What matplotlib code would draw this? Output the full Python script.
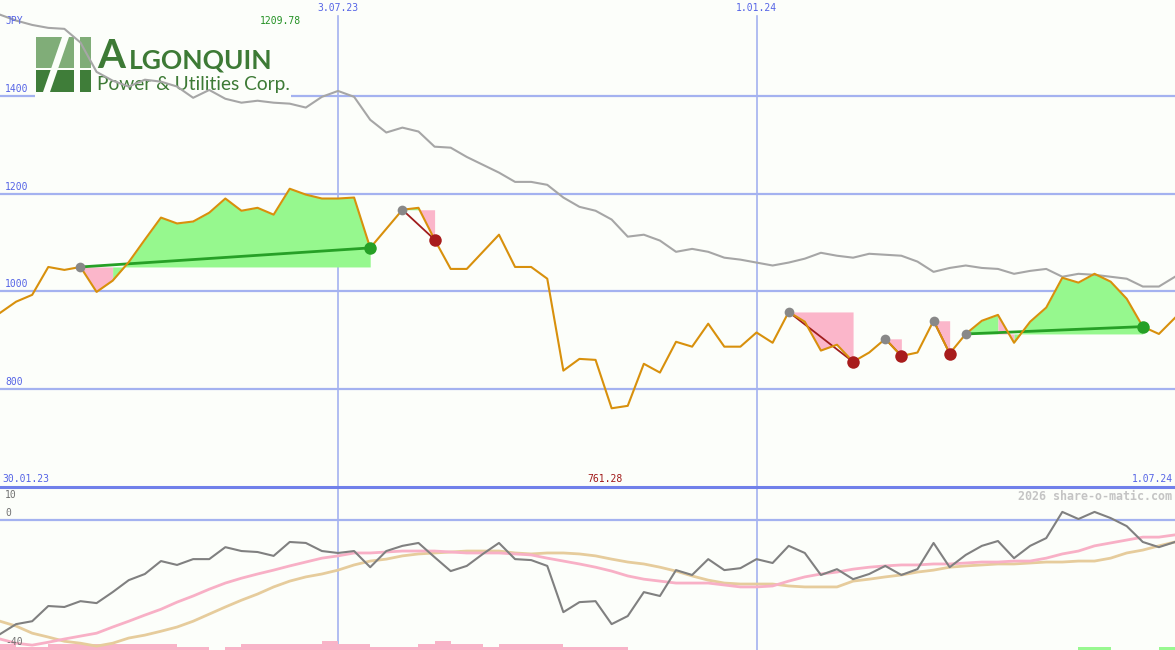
import matplotlib
matplotlib.use('Agg')
import matplotlib.pyplot as plt
import matplotlib.dates as mdates
from matplotlib.patches import Rectangle, Polygon
import numpy as np
import pandas as pd

# weekly closes, JPY
dates = pd.date_range('2023-02-06', periods=74, freq='7D')
price = [956, 979, 993, 1050, 1044, 1050, 999, 1022, 1060, 1106,
         1151, 1139, 1143, 1161, 1190, 1165, 1171, 1157, 1210, 1198,
         1190, 1190, 1192, 1089, 1128, 1167, 1171, 1106, 1046, 1046,
         1081, 1116, 1050, 1050, 1026, 838, 862, 860, 761, 766,
         852, 834, 897, 887, 934, 887, 887, 916, 895, 958,
         938, 879, 891, 856, 875, 903, 868, 875, 940, 873,
         913, 940, 952, 895, 938, 967, 1028, 1018, 1036, 1020,
         985, 928, 913, 946]
avg_long = [1566, 1554, 1545, 1539, 1537, 1509, 1449, 1431, 1419, 1433,
            1429, 1419, 1396, 1412, 1394, 1386, 1390, 1386, 1384, 1376,
            1398, 1410, 1398, 1351, 1325, 1335, 1327, 1296, 1294, 1275,
            1259, 1243, 1224, 1224, 1218, 1192, 1173, 1165, 1147, 1112,
            1116, 1104, 1081, 1087, 1081, 1069, 1065, 1059, 1053, 1059,
            1067, 1079, 1073, 1069, 1077, 1075, 1073, 1061, 1040, 1048,
            1053, 1048, 1046, 1036, 1042, 1046, 1030, 1036, 1034, 1030,
            1026, 1010, 1010, 1030]

# lower panel
osc = [-35.3, -32.2, -31.3, -26.6, -26.9, -25.1, -25.7, -22.3, -18.6, -16.7,
       -12.7, -13.9, -12.1, -12.1, -8.4, -9.6, -9.9, -11.1, -6.8, -7.1,
       -9.6, -10.2, -9.6, -14.6, -9.6, -8.0, -7.1, -11.5, -15.8, -14.2,
       -10.5, -7.1, -12.1, -12.4, -14.2, -28.5, -25.4, -25.1, -32.2, -29.7,
       -22.3, -23.5, -15.5, -17.0, -12.1, -15.5, -14.9, -12.1, -13.3, -8.0,
       -10.2, -17.0, -15.2, -18.3, -16.7, -14.2, -17.0, -15.2, -7.1, -14.6,
       -10.8, -8.0, -6.5, -11.8, -8.0, -5.6, 2.5, 0.3, 2.5, 0.6,
       -1.9, -6.8, -8.4, -6.8]
osc_fast = [-36.8, -38.1, -38.7, -37.8, -36.8, -35.9, -35.0, -33.1, -31.3, -29.4,
            -27.6, -25.4, -23.5, -21.4, -19.5, -18.0, -16.7, -15.5, -14.2, -13.0,
            -11.8, -11.1, -10.2, -10.2, -9.9, -9.6, -9.6, -9.6, -9.9, -10.2,
            -10.2, -10.2, -10.5, -10.8, -11.8, -12.7, -13.6, -14.6, -15.8, -17.3,
            -18.3, -18.9, -19.5, -19.5, -19.5, -20.1, -20.7, -20.7, -20.4, -18.9,
            -17.6, -16.7, -16.1, -15.2, -14.6, -14.2, -13.9, -13.9, -13.6, -13.6,
            -13.3, -13.0, -13.0, -12.7, -12.7, -11.8, -10.5, -9.6, -8.0, -7.1,
            -6.2, -5.3, -5.3, -4.6]
osc_slow = [-31.3, -32.8, -35.0, -36.2, -37.5, -38.1, -39.0, -38.1, -36.5, -35.6,
            -34.4, -33.1, -31.3, -29.1, -26.9, -24.8, -22.9, -20.7, -18.9, -17.6,
            -16.7, -15.5, -13.9, -12.7, -12.1, -11.1, -10.5, -10.2, -9.9, -9.6,
            -9.6, -9.6, -10.2, -10.5, -10.2, -10.2, -10.5, -11.1, -12.1, -13.0,
            -13.6, -14.6, -15.8, -17.3, -18.6, -19.5, -19.8, -19.8, -19.8, -20.4,
            -20.7, -20.7, -20.7, -18.9, -18.3, -17.6, -17.0, -16.1, -15.5, -14.6,
            -14.2, -13.9, -13.6, -13.6, -13.3, -13.0, -13.0, -12.7, -12.7, -11.8,
            -10.2, -9.3, -8.0, -6.8]
bar_red = [2, 1, 1, 2, 2, 2, 2, 2, 2, 2, 2, 1, 1, 0, 1, 2, 2, 2, 2, 2,
           3, 2, 2, 1, 1, 1, 2, 3, 2, 2, 1, 2, 2, 2, 2, 1, 1, 1, 1] + [0] * 35
bar_green = [0] * 67 + [1, 1, 0, 0, 0, 1, 0]

# signals: entry week, exit week, won?
sig_start = [5, 25, 49, 55, 58, 60]
sig_end = [23, 27, 53, 56, 59, 71]
sig_win = [True, False, False, False, False, True]
# shaded stretches between price and entry level: (signal, from, to, gain?)
sig_fills = [(0, 5, 7, False), (0, 7, 23, True), (1, 25, 26, True), (1, 26, 27, False),
             (2, 49, 53, False), (3, 55, 56, False), (4, 58, 59, False),
             (5, 60, 62, True), (5, 62, 63, False), (5, 63, 71, True)]

grid_main = [800, 1000, 1200, 1400]
date_marks = ['2023-07-03', '2024-01-01']
date_labels = ['3.07.23', '1.01.24']
hi_label, lo_label = '1209.78', '761.28'
range_labels = ['30.01.23', '1.07.24']

BG = '#fcfefa'
GRID = '#a4b2f0'
SEP = '#7080ea'
BLUE = '#5564e6'
FS = 7

plt.rcParams['font.family'] = ['DejaVu Sans Mono']

W, H = 1175, 650
fig = plt.figure(figsize=(W / 100, H / 100), dpi=100, facecolor=BG)
ax = fig.add_axes([0, 163 / H, 1, 487 / H])
ax2 = fig.add_axes([0, 0, 1, 163 / H])

def fp(px, py):
    return px / W, 1 - py / H

x = mdates.date2num(dates)
for a in (ax, ax2):
    a.set_facecolor(BG)
    a.set_xlim(x[0], x[-1])
    a.set_xticks([])
    a.set_yticks([])
    for s in a.spines.values():
        s.set_visible(False)
ax.set_ylim(600, 1596)
ax2.set_ylim(-40.2, 10.2)
ax2.spines['top'].set_visible(True)
ax2.spines['top'].set_color(SEP)
ax2.spines['top'].set_linewidth(2.2)

# grid
for v in grid_main:
    ax.axhline(v, color=GRID, lw=1.6, zorder=1)
    ax.annotate(str(v), xy=(0, v), xycoords=('axes fraction', 'data'), xytext=(5, 2),
                textcoords='offset pixels', va='bottom', ha='left', color=BLUE, fontsize=FS, zorder=7)
ax2.axhline(0, color=GRID, lw=1.6, zorder=1)
for d, lab in zip(date_marks, date_labels):
    xv = mdates.date2num(pd.Timestamp(d))
    ax.axvline(xv, ymax=1 - 16 / 487, color=GRID, lw=1.2, zorder=1)
    ax2.axvline(xv, color=GRID, lw=1.2, zorder=1)
    ax.annotate(lab, xy=(xv, 1), xycoords=('data', 'axes fraction'), xytext=(0, -8),
                textcoords='offset pixels', ha='center', va='center', color=BLUE, fontsize=FS)

# logo
ax.add_patch(Rectangle(fp(35, 98), 256 / W, 63 / H, transform=fig.transFigure, color=BG, lw=0, zorder=2))
ax.add_patch(Rectangle(fp(36, 68), 55 / W, 31 / H, transform=fig.transFigure, color='#80ad78', lw=0, zorder=2.1))
ax.add_patch(Rectangle(fp(36, 92), 55 / W, 22 / H, transform=fig.transFigure, color='#3f7d39', lw=0, zorder=2.1))
ax.add_patch(Polygon([fp(43, 92), fp(50, 92), fp(69, 37), fp(62, 37)], closed=True,
                     transform=fig.transFigure, color=BG, lw=0, zorder=2.2))
ax.add_patch(Rectangle(fp(74, 92), 6 / W, 55 / H, transform=fig.transFigure, color=BG, lw=0, zorder=2.2))
LOGO = '#3d7a35'
ax.text(*fp(97, 68), 'A', transform=fig.transFigure, family='Lato', weight='bold', fontsize=29,
        color=LOGO, va='baseline', zorder=2.3)
ax.text(*fp(129, 68), 'LGONQUIN', transform=fig.transFigure, family='Lato', weight='bold', fontsize=19,
        color=LOGO, va='baseline', zorder=2.3)
ax.text(*fp(97, 90), 'Power & Utilities Corp.', transform=fig.transFigure, family='Lato', fontsize=13.8,
        color=LOGO, va='baseline', zorder=2.3)

# main panel
ax.plot(x, avg_long, color='#a6a6a6', lw=1.5, zorder=4)
for k, a0, a1, gain in sig_fills:
    level = price[sig_start[k]]
    ax.fill_between(x[a0:a1 + 1], price[a0:a1 + 1], level, color='#96f88e' if gain else '#fbb6ca',
                    lw=0, zorder=3)
for s, e, win in zip(sig_start, sig_end, sig_win):
    ax.plot([x[s], x[e]], [price[s], price[e]], color='#26a026' if win else '#a01c1c',
            lw=2.0 if win else 1.3, zorder=5)
ax.plot(x, price, color='#d8900c', lw=1.5, zorder=5.5)
for s, e, win in zip(sig_start, sig_end, sig_win):
    ax.plot(x[s], price[s], 'o', ms=7, color='#888888', mec='none', zorder=6)
    ax.plot(x[e], price[e], 'o', ms=9, color='#26a026' if win else '#a81c1c', mec='none', zorder=6)

# labels
fig.text(*fp(5, 21), 'JPY', color=BLUE, fontsize=FS, va='center')
fig.text(*fp(260, 21), hi_label, color='#229022', fontsize=FS, va='center')
fig.text(*fp(2, 479), range_labels[0], color=BLUE, fontsize=FS, va='center')
fig.text(*fp(587, 479), lo_label, color='#a01818', fontsize=FS, va='center')
fig.text(*fp(1173, 479), range_labels[1], color=BLUE, fontsize=FS, va='center', ha='right')
fig.text(*fp(1172, 496), '2026 share-o-matic.com', color='#c4c4c4', fontsize=8.4, va='center', ha='right',
         weight='bold')

# lower panel
bot = ax2.get_ylim()[0]
unit = 0.95
ax2.bar(x, np.array(bar_red) * unit, bottom=bot, width=7, align='edge', color='#f8b4c8', lw=0, zorder=2)
ax2.bar(x, np.array(bar_green) * unit, bottom=bot, width=7, align='edge', color='#98f890', lw=0, zorder=2)
ax2.plot(x, osc_slow, color='#e6cc9c', lw=2.0, zorder=3)
ax2.plot(x, osc_fast, color='#f8b0c6', lw=2.0, zorder=3.1)
ax2.plot(x, osc, color='#808080', lw=1.5, zorder=4)
fig.text(*fp(5, 495), '10', color='#707070', fontsize=FS, va='center')
fig.text(*fp(5, 513), '0', color='#707070', fontsize=FS, va='center')
fig.text(*fp(5, 642), '-40', color='#707070', fontsize=FS, va='center')

fig.savefig('out.png', dpi=100, facecolor=BG)
